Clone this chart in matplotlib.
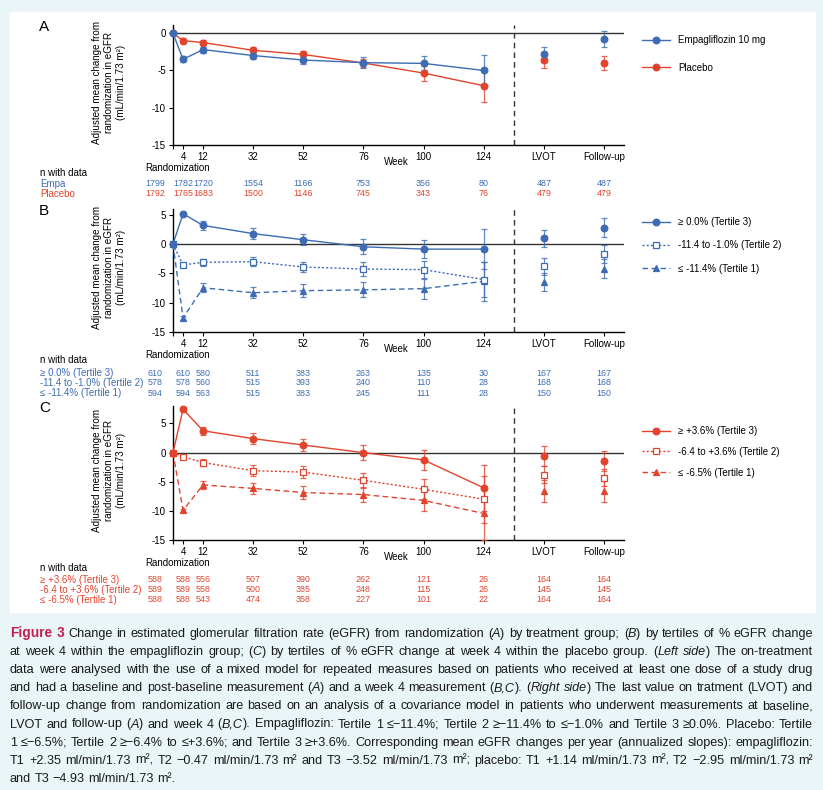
import matplotlib
matplotlib.use('Agg')
import matplotlib.pyplot as plt
from matplotlib.lines import Line2D
from matplotlib.patches import Rectangle
from matplotlib.transforms import blended_transform_factory

plt.rcParams['font.family'] = ['Liberation Sans', 'DejaVu Sans']
plt.rcParams['axes.unicode_minus'] = False

W, H = 823, 790
BLUE = '#3d6cb4'
RED = '#e2432d'
TAB_FS = 7.0
NUM_FS = 6.4

# x positions in weeks, LVOT and follow-up put on the same scale
weeks = [0, 4, 12, 32, 52, 76, 100, 124]
x_end = [148, 172]
tick_pos = [0, 4, 12, 32, 52, 76, 100, 124, 148, 172]
tick_lab = ['', '4', '12', '32', '52', '76', '100', '124', 'LVOT', 'Follow-up']
n_cols = [-7, 4, 12, 32, 52, 76, 100, 124, 148, 172]

# --- panel A: treatment groups
empa_mean = [0, -3.5, -2.2, -3.0, -3.6, -3.95, -4.05, -5.0]
empa_err = [0, 0.4, 0.4, 0.4, 0.5, 0.7, 0.95, 2.1]
empa_end = [-2.85, -0.8]
empa_end_err = [0.95, 1.1]
plac_mean = [0, -1.0, -1.25, -2.3, -2.85, -4.0, -5.35, -7.05]
plac_err = [0, 0.3, 0.4, 0.5, 0.5, 0.6, 1.0, 2.2]
plac_end = [-3.65, -4.0]
plac_end_err = [1.0, 1.0]
n_empa = [1799, 1782, 1720, 1554, 1166, 753, 356, 80, 487, 487]
n_plac = [1792, 1765, 1683, 1500, 1146, 745, 343, 76, 479, 479]

# --- panel B: empagliflozin tertiles
b_t3 = [0, 5.2, 3.2, 1.8, 0.75, -0.45, -0.85, -0.85]
b_t3_err = [0, 0.3, 0.7, 1.0, 0.9, 1.3, 1.5, 3.4]
b_t3_end = [1.0, 2.8]
b_t3_end_err = [1.5, 1.6]
b_t2 = [0, -3.55, -3.1, -3.0, -3.9, -4.25, -4.35, -6.05]
b_t2_err = [0, 0.2, 0.6, 0.8, 0.9, 1.2, 1.5, 3.0]
b_t2_end = [-3.8, -1.7]
b_t2_end_err = [1.4, 1.6]
b_t1 = [0, -12.6, -7.45, -8.3, -7.95, -7.8, -7.6, -6.35]
b_t1_err = [0, 0.3, 0.8, 0.9, 1.1, 1.3, 1.7, 3.3]
b_t1_end = [-6.5, -4.2]
b_t1_end_err = [1.5, 1.6]
n_b_t3 = [610, 610, 580, 511, 383, 263, 135, 30, 167, 167]
n_b_t2 = [578, 578, 560, 515, 393, 240, 110, 28, 168, 168]
n_b_t1 = [594, 594, 563, 515, 383, 245, 111, 28, 150, 150]

# --- panel C: placebo tertiles
c_t3 = [0, 7.45, 3.75, 2.4, 1.3, 0.0, -1.25, -6.05]
c_t3_err = [0, 0.3, 0.7, 0.9, 1.1, 1.3, 1.75, 3.9]
c_t3_end = [-0.6, -1.5]
c_t3_end_err = [1.7, 1.7]
c_t2 = [0, -0.7, -1.7, -3.1, -3.35, -4.75, -6.3, -8.0]
c_t2_err = [0, 0.2, 0.6, 0.9, 1.0, 1.3, 1.7, 4.0]
c_t2_end = [-3.8, -4.3]
c_t2_end_err = [1.5, 1.5]
c_t1 = [0, -9.9, -5.55, -6.15, -6.85, -7.2, -8.2, -10.45]
c_t1_err = [0, 0.3, 0.7, 0.9, 1.1, 1.3, 1.8, 4.5]
c_t1_end = [-6.6, -6.6]
c_t1_end_err = [1.85, 1.8]
n_c_t3 = [588, 588, 556, 507, 390, 262, 121, 26, 164, 164]
n_c_t2 = [589, 589, 558, 500, 385, 248, 115, 26, 145, 145]
n_c_t1 = [588, 588, 543, 474, 358, 227, 101, 22, 164, 164]

b_labels = ['\u2265 0.0% (Tertile 3)', '-11.4 to -1.0% (Tertile 2)', '\u2264 -11.4% (Tertile 1)']
c_labels = ['\u2265 +3.6% (Tertile 3)', '-6.4 to +3.6% (Tertile 2)', '\u2264 -6.5% (Tertile 1)']

fig = plt.figure(figsize=(W / 100, H / 100), dpi=100)
fig.patch.set_facecolor('#eaf5f8')
fig.patches.append(Rectangle((10 / W, 1 - 612 / H), 805 / W, 600 / H,
                             transform=fig.transFigure, color='white', zorder=-5))


def fx(x):
    return x / W


def fy(y):
    return 1 - y / H


def series(ax, mean, err, end, end_err, color, ls, marker, filled=True):
    mfc = color if filled else 'white'
    ax.errorbar(weeks, mean, yerr=err, fmt='none', ecolor=color, alpha=0.8,
                elinewidth=0.9, capsize=2.3, capthick=0.9, zorder=3, clip_on=False)
    ax.errorbar(x_end, end, yerr=end_err, fmt='none', ecolor=color, alpha=0.8,
                elinewidth=0.9, capsize=2.3, capthick=0.9, zorder=3)
    ax.plot(weeks, mean, color=color, ls=ls, lw=1.0, marker=marker, ms=4.8,
            mfc=mfc, mec=color, mew=0.9, zorder=4, clip_on=False)
    ax.plot(x_end, end, ls='none', marker=marker, ms=4.8, mfc=mfc, mec=color,
            mew=0.9, zorder=4)
    return Line2D([], [], color=color, ls=ls, lw=1.0, marker=marker, ms=4.8,
                  mfc=mfc, mec=color, mew=0.9)


def panel(letter, top, bottom, ylim, yticks):
    ax = fig.add_axes([fx(173), fy(bottom), fx(624 - 173), (bottom - top) / H])
    ax.set_xlim(0, 180)
    ax.set_ylim(*ylim)
    ax.set_yticks(yticks)
    ax.set_xticks(tick_pos)
    ax.set_xticklabels(tick_lab)
    ax.tick_params(labelsize=7, length=3, width=0.8, pad=2)
    for s in ['top', 'right']:
        ax.spines[s].set_visible(False)
    ax.spines['left'].set_linewidth(1.0)
    ax.spines['bottom'].set_linewidth(1.0)
    ax.set_facecolor('none')
    ax.axhline(0, color='#333333', lw=1.0, zorder=1)
    ax.axvline(136, color='#333333', lw=1.0, ls=(0, (4, 3)), zorder=1)
    fig.text(fx(39), fy(top + 2), letter, fontsize=11, va='center', ha='left')
    fig.text(fx(109), fy((top + bottom) / 2 - 3),
             'Adjusted mean change from\nrandomization in eGFR\n(mL/min/1.73 m\u00b2)',
             rotation=90, ha='center', va='center', fontsize=7.1, linespacing=1.3)
    bt = blended_transform_factory(ax.transData, fig.transFigure)
    fig.text(89, fy(bottom + 17), 'Week', transform=bt, ha='center', va='center', fontsize=7)
    fig.text(fx(145), fy(bottom + 23), 'Randomization', ha='left', va='center',
             fontsize=TAB_FS)
    fig.text(fx(40), fy(bottom + 28), 'n with data', ha='left', va='center',
             fontsize=TAB_FS)
    return ax, bt


def n_table(bt, y0, labels, rows, colors):
    for i, (lab, row, col) in enumerate(zip(labels, rows, colors)):
        y = fy(y0 + 10 * i)
        fig.text(fx(40), y, lab, ha='left', va='center', fontsize=TAB_FS, color=col)
        for xc, v in zip(n_cols, row):
            fig.text(xc, y, str(v), transform=bt, ha='center', va='center',
                     fontsize=NUM_FS, color=col)


def legend(ax, handles, labels, y_first, spacing):
    ax.legend(handles, labels, loc='upper left', bbox_to_anchor=(fx(642), fy(y_first - 4)),
              bbox_transform=fig.transFigure, frameon=False, fontsize=7,
              handlelength=2.9, handletextpad=0.8, labelspacing=spacing,
              borderpad=0, borderaxespad=0)


# panel A
axA, btA = panel('A', 25, 145, (-15, 1.1), [-15, -10, -5, 0])
hp = series(axA, plac_mean, plac_err, plac_end, plac_end_err, RED, '-', 'o')
he = series(axA, empa_mean, empa_err, empa_end, empa_end_err, BLUE, '-', 'o')
legend(axA, [he, hp], ['Empagliflozin 10 mg', 'Placebo'], 39, 1.83)
n_table(btA, 184, ['Empa', 'Placebo'], [n_empa, n_plac], [BLUE, RED])

# panel B
axB, btB = panel('B', 209, 332, (-15, 6), [-15, -10, -5, 0, 5])
h1 = series(axB, b_t1, b_t1_err, b_t1_end, b_t1_end_err, BLUE, (0, (4, 2.5)), '^')
h2 = series(axB, b_t2, b_t2_err, b_t2_end, b_t2_end_err, BLUE, (0, (1.5, 1.5)), 's', filled=False)
h3 = series(axB, b_t3, b_t3_err, b_t3_end, b_t3_end_err, BLUE, '-', 'o')
legend(axB, [h3, h2, h1], b_labels, 221, 1.37)
n_table(btB, 373, b_labels, [n_b_t3, n_b_t2, n_b_t1], [BLUE] * 3)

# panel C
axC, btC = panel('C', 406, 540, (-15, 8), [-15, -10, -5, 0, 5])
h1 = series(axC, c_t1, c_t1_err, c_t1_end, c_t1_end_err, RED, (0, (4, 2.5)), '^')
h2 = series(axC, c_t2, c_t2_err, c_t2_end, c_t2_end_err, RED, (0, (1.5, 1.5)), 's', filled=False)
h3 = series(axC, c_t3, c_t3_err, c_t3_end, c_t3_end_err, RED, '-', 'o')
legend(axC, [h3, h2, h1], c_labels, 430, 1.11)
n_table(btC, 580, c_labels, [n_c_t3, n_c_t2, n_c_t1], [RED] * 3)

# caption, justified line by line; * toggles italic, ~ toggles the bold red label
caption = [
    '~Figure 3~ Change in estimated glomerular filtration rate (eGFR) from randomization (*A*) by treatment group; (*B*) by tertiles of % eGFR change',
    'at week 4 within the empagliflozin group; (*C*) by tertiles of % eGFR change at week 4 within the placebo group. (*Left side*) The on-treatment',
    'data were analysed with the use of a mixed model for repeated measures based on patients who received at least one dose of a study drug',
    'and had a baseline and post-baseline measurement (*A*) and a week 4 measurement (*B,C*). (*Right side*) The last value on tratment (LVOT) and',
    'follow-up change from randomization are based on an analysis of a covariance model in patients who underwent measurements at baseline,',
    'LVOT and follow-up (*A*) and week 4 (*B,C*). Empagliflozin: Tertile 1 \u2264\u221211.4%; Tertile 2 \u2265\u221211.4% to \u2264\u22121.0% and Tertile 3 \u22650.0%. Placebo: Tertile',
    '1 \u2264\u22126.5%; Tertile 2 \u2265\u22126.4% to \u2264+3.6%; and Tertile 3 \u2265+3.6%. Corresponding mean eGFR changes per year (annualized slopes): empagliflozin:',
    'T1 +2.35 ml/min/1.73 m\u00b2, T2 \u22120.47 ml/min/1.73 m\u00b2 and T3 \u22123.52 ml/min/1.73 m\u00b2; placebo: T1 +1.14 ml/min/1.73 m\u00b2, T2 \u22122.95 ml/min/1.73 m\u00b2',
    'and T3 \u22124.93 ml/min/1.73 m\u00b2.',
]
renderer = fig.canvas.get_renderer()


def make_piece(s, y, italic, bold, fs):
    kw = dict(fontsize=fs, va='baseline', ha='left', color='#1a1a1a')
    if italic:
        kw['style'] = 'italic'
    if bold:
        kw.update(weight='bold', color='#c21f4e', fontsize=fs + 0.8)
    t = fig.text(0, y, s, **kw)
    return t, t.get_window_extent(renderer).width


def build_caption(fs):
    italic = False
    bold = False
    out = []
    for i, line in enumerate(caption):
        y = fy(637 + 18.1 * i)
        words = []
        for w in line.split(' '):
            parts = []
            buf = ''
            for ch in w:
                if ch in '*~':
                    if buf:
                        parts.append(make_piece(buf, y, italic, bold, fs))
                        buf = ''
                    if ch == '*':
                        italic = not italic
                    else:
                        bold = not bold
                else:
                    buf += ch
            if buf:
                parts.append(make_piece(buf, y, italic, bold, fs))
            words.append(parts)
        out.append(words)
    return out


def space_width(fs):
    a = make_piece('x x', 0, False, False, fs)
    b = make_piece('xx', 0, False, False, fs)
    a[0].remove()
    b[0].remove()
    return a[1] - b[1]


cap_fs = 10.0
lines = build_caption(cap_fs)
sw = space_width(cap_fs)
natural = max(sum(p[1] for parts in words for p in parts) + sw * (len(words) - 1)
              for words in lines)
if natural > 798:
    for words in lines:
        for parts in words:
            for t, _ in parts:
                t.remove()
    cap_fs = cap_fs * 798 / natural
    lines = build_caption(cap_fs)
    sw = space_width(cap_fs)

for i, words in enumerate(lines):
    widths = [sum(p[1] for p in parts) for parts in words]
    if i < len(lines) - 1:
        gap = (803 - sum(widths)) / (len(words) - 1)
    else:
        gap = sw
    x = 10
    for parts, wd in zip(words, widths):
        xx = x
        for t, pw in parts:
            t.set_x(fx(xx))
            xx += pw
        x += wd + gap

fig.savefig('out.png', dpi=100, facecolor=fig.get_facecolor())
